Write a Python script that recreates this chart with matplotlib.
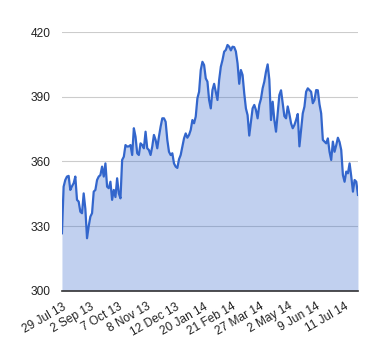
import matplotlib
matplotlib.use("Agg")
import matplotlib.pyplot as plt
import numpy as np

# price values, left to right
values_first_half = [
	326.7, 348.3, 351.4, 353.0, 353.3, 346.8, 348.5, 349.9, 353.0, 342.2,
	341.4, 336.7, 336.0, 345.2, 338.0, 324.4, 330.0, 334.4, 336.0, 346.0,
	346.8, 351.4, 353.0, 353.7, 357.6, 353.0, 359.1, 348.3, 347.6, 350.6,
	342.2, 346.8, 343.5, 352.2, 345.2, 342.9, 360.7, 362.2, 367.6, 366.9,
	367.0, 367.6, 363.0, 375.4, 371.5, 363.8, 363.0, 368.4, 367.6, 366.1,
	373.8, 366.1, 365.3, 363.0, 366.9, 372.3, 370.0, 366.1, 371.5, 376.1,
	380.0, 380.0, 378.4, 370.0, 364.5, 363.0, 363.8, 359.1, 357.6, 357.0,
	361.0, 363.0, 366.9, 370.7, 373.0, 371.0, 372.3, 374.6, 379.2, 377.7,
	380.8, 389.3, 392.3, 402.4, 406.2, 404.7, 398.5, 397.0, 388.5, 384.6,
]
values_second_half = [
	393.1, 396.0, 392.3, 388.5, 397.8, 403.9, 407.0, 410.9, 411.7, 414.0,
	413.2, 411.5, 413.2, 413.0, 411.0, 405.5, 396.0, 402.4, 400.1, 391.6,
	384.6, 381.5, 372.0, 378.4, 384.6, 386.2, 383.9, 380.0, 386.2, 389.0,
	393.9, 397.0, 401.6, 405.0, 398.0, 379.2, 387.7, 379.2, 373.8, 382.3,
	390.8, 393.0, 387.0, 381.0, 380.0, 385.5, 382.0, 377.7, 375.4, 376.9,
	379.2, 382.0, 367.0, 374.6, 382.3, 385.4, 392.3, 393.9, 393.1, 392.3,
	387.0, 388.5, 393.1, 393.0, 386.5, 382.3, 370.0, 369.2, 368.4, 370.7,
	364.5, 360.7, 369.2, 364.5, 367.5, 371.0, 369.0, 365.3, 353.7, 350.6,
	355.3, 354.5, 359.1, 353.0, 346.0, 351.4, 350.6, 344.5,
]
tick_labels = ["29 Jul 13", "2 Sep 13", "7 Oct 13", "8 Nov 13", "12 Dec 13",
	"20 Jan 14", "21 Feb 14", "27 Mar 14", "2 May 14", "9 Jun 14", "11 Jul 14"]
y_ticks = [300, 330, 360, 390, 420]

LINE_COLOR = "#3366cc"

plt.rcParams["font.family"] = ["Liberation Sans", "DejaVu Sans"]

values = values_first_half + values_second_half
x = np.arange(len(values))

fig = plt.figure(figsize=(3.8, 3.6), dpi=100)
ax = fig.add_axes([0.163, 0.192, 0.779, 0.719])

ax.fill_between(x, 300, values, color=LINE_COLOR, alpha=0.3, linewidth=0)
ax.plot(x, values, color=LINE_COLOR, linewidth=1.6)

ax.set_xlim(0, len(values) - 1)
ax.set_ylim(300, 420)
ax.set_yticks(y_ticks)
ax.set_yticklabels([str(v) for v in y_ticks], fontsize=8.6, color="#222222")
ax.tick_params(axis="y", length=0, pad=8.5)
ax.grid(axis="y", color="#cccccc", linewidth=0.8)
ax.set_axisbelow(True)

# one label every 24 trading days on the original axis
tick_step = 16.9
ax.set_xticks(np.arange(len(tick_labels)) * tick_step)
ax.set_xticklabels(tick_labels, rotation=30, ha="right", rotation_mode="anchor",
	fontsize=8.6, color="#222222")
ax.tick_params(axis="x", length=0, pad=7)

for side in ["top", "right", "left"]:
	ax.spines[side].set_visible(False)
ax.spines["bottom"].set_color("#333333")
ax.spines["bottom"].set_linewidth(1.2)

plt.savefig("out.png")
